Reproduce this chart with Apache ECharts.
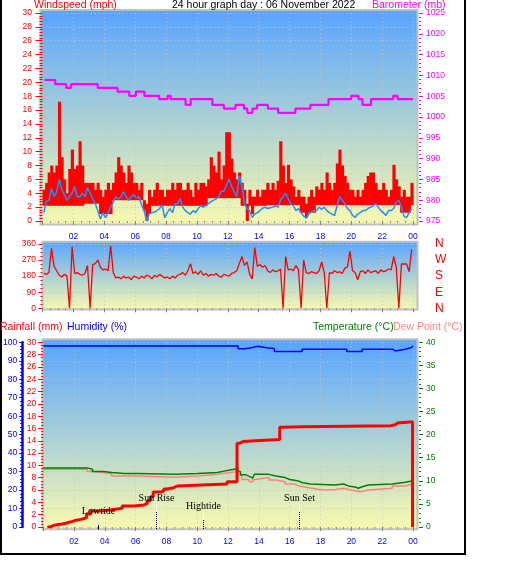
<!DOCTYPE html>
<html><head><meta charset="utf-8">
<script src="https://cdn.jsdelivr.net/npm/echarts/dist/echarts.min.js"></script>
<style>html,body{margin:0;padding:0;background:#fff;}#c{width:529px;height:563px;}</style>
</head><body><div id="c"></div>
<script>
// ---------- DATA ----------
const SLOT = 1 / 6; // 10-minute slots, hour = index * SLOT
const hourLabels = ['', '02', '04', '06', '08', '10', '12', '14', '16', '18', '20', '22', '00'];
const dirLetters = ['N', 'E', 'S', 'W', 'N'];

const windGustHigh = [4.5,5.5,7,8,7,8,17.2,9.2,6,4, 7.5,10.3,7.5,8,11.5,8,5.5,5.5,5.5,5.5,
  4.5,5.5,4.5,3.5,4.5,5.5,4.5,5.5,7,9.2, 8,7,5.5,8,7,5.5,5.5,4.5,5.5,3,
  2.5,4.5,3.5,4.5,5.5,4.5,4.5,3.5,4.5,4.5, 5.5,4.5,5.5,5.5,4.5,4.5,5.5,4.5,3.5,5.5,
  4.5,5.5,5.5,5,6,9.2,8,7,10,6, 8,12.8,12.8,9,7,6,7,5.5,4.5,2.5,
  4.5,3.5,3.5,4.5,3.5,4.5,4.5,5.5,4.5,5.5, 4.5,5.8,11.5,8,5.5,8.1,6,5,3.5,4.5,
  3.5,3.5,2.5,3.5,4.5,3.5,5,4.5,5.5,4.5, 7,5.5,4.5,5.5,8.3,10.3,8,6.5,5.5,4.5,
  4.5,3.5,4.5,3.5,4.5,5.5,6.5,7,7,5.5, 4.5,4.5,5.5,4.5,3.5,4.5,8.1,6,5,3.5,
  4.5,3.5,3.5,5.5];
const windGustLow = [2.2,2.2,2.2,2.2,2.2,2.2,2.2,2.2,2.2,2.2, 2.2,2.2,2.2,2.2,2.2,2.2,2.5,2.5,2.5,2.5,
  2.5,2.5,1,1,1,1,1,3,3,3, 3,3,3,3,3,3,3,3,3,1.5,
  0,1,2.2,2.2,2.2,2.2,2.2,2.2,2.2,2.2, 2.2,2.2,2.2,2.2,2.2,2.2,2.2,2.2,2.2,2.2,
  2.2,2.2,2.2,2.2,3.3,3.3,3.3,3.3,3.3,3.3, 3.3,3.3,3.3,3.3,3.3,3.3,3.3,2.2,2.2,0,
  2.2,1,2.2,2.2,2.2,2.2,2.2,2.3,2.3,2.3, 2.3,2.3,2.3,2.3,2.3,2.3,2.3,2.3,2.3,2.3,
  1.2,1.2,0.5,1.2,1.2,1.2,2.3,2.3,2.3,2.3, 2.3,2.3,2.3,2.3,2.3,2.3,2.3,2.3,2.3,2.3,
  2.3,2.3,2.3,2.3,2.3,2.3,2.3,2.3,2.3,2.3, 2.3,2.3,2.3,2.3,2.3,2.3,2.3,2.3,2.3,1.2,
  1.2,1.2,1.2,2.3];
const windAvg = [1.2,2.8,3,4.7,3.5,4.2,6,4.5,3.8,3, 3.5,4,5,3.5,3.5,4,3.5,4.8,4,3.2,
  2.5,1.5,0.3,1.2,0.5,1.2,2,2.7,3.5,3.2, 3.5,4.2,3.5,3,3.5,3.8,3.3,3.5,2.3,1.5,
  0,1.1,1.2,1.3,1.5,1.8,2.3,0.5,1.2,1.8, 1.2,2.5,2.5,3.2,2,1.5,1.2,1,1.5,1.2,
  1.8,2.2,2,2.2,2.5,2.8,3,3.2,3.5,4.3, 4.3,5.2,6,5,4.2,3.5,6.5,5,2.5,1.8,
  1.5,0.5,1,1.2,1.5,1.8,2,1.8,1.9,2, 2.2,2,3,3.5,4,3.2,2.5,2.2,1.5,1.8,
  1.2,0.7,0.4,1,1.3,1.5,1.5,2,1.7,2, 1.5,1.2,1,0.8,2.2,3.5,3,2.5,1.8,1.5,
  0.8,0.5,1,1.2,1.5,1.5,1.8,2,2.2,2.5, 2,1.5,1.2,0.8,1.5,1.5,1.8,2.7,3,2,
  0.7,0.5,1.2,1.8];
const windDir = [195,190,200,336,235,210,185,175,190,180, 0,345,195,200,190,185,195,240,0,245,
  250,270,230,215,220,210,350,200,170,175, 165,180,170,175,160,180,175,165,180,170,
  185,180,165,185,175,190,180,170,175,165, 180,170,185,190,200,185,210,250,195,205,
  190,210,185,195,180,190,185,195,180,175, 190,185,180,195,200,210,250,290,240,260,
  190,165,340,235,245,230,240,210,200,215, 205,210,220,0,290,215,220,210,240,215,
  0,270,200,195,205,200,195,210,260,200, 0,200,195,210,200,205,195,225,230,320,
  210,200,160,205,210,195,215,200,205,210, 195,215,205,210,220,215,290,230,0,248,
  248,248,205,330];

// [hour, value] change points (step lines)
const baroSteps = [[0.13,1008.9],[0.82,1007.9],[1.53,1007.0],[1.85,1007.9],[3.58,1007.0],[4.86,1006.1],
  [5.62,1005.1],[6.05,1006.1],[6.6,1005.1],[7.56,1004.3],[8.1,1005.1],[8.3,1004.3],[9.27,1002.9],
  [9.6,1004.3],[11.0,1002.9],[11.75,1002.0],[12.5,1002.9],[13.05,1002.0],[13.27,1001.0],[13.6,1002.0],
  [13.9,1002.9],[14.6,1002.0],[15.26,1001.0],[16.38,1002.0],[17.35,1002.9],[18.53,1004.3],[20.0,1005.1],
  [20.47,1004.3],[20.73,1002.9],[21.28,1004.3],[22.72,1005.1],[23.0,1004.3],[24.0,1004.3]];
const humiditySteps = [[0,98],[12.65,96.5],[13.1,97],[13.5,97.8],[13.9,97],[14.5,96.7],[15.0,95],
  [16.8,96.2],[19.7,95],[20.7,96.2],[22.7,95.3],[22.85,96.2],[23.5,97.2],[23.9,98],[24,98]];
const rainSteps = [[0.27,0],[0.44,0.27],[0.7,0.49],[1.24,0.6],[1.46,0.76],[1.67,0.92],[1.89,1.08],
  [2.1,1.24],[2.43,1.35],[2.64,1.57],[2.82,2.11],[3.08,2.6],[3.72,2.76],[4.37,3.03],[5.13,3.41],
  [5.88,3.57],[6.53,3.84],[6.75,4.27],[6.96,4.9],[7.14,5.68],[7.61,5.84],[7.83,6.17],[8.04,6.39],
  [8.47,6.66],[8.69,6.98],[11.93,7.36],[12.58,13.6],[12.75,13.9],[13.0,14.0],[13.75,14.2],
  [15.35,16.2],[15.5,16.3],[16.85,16.45],[22.55,16.6],[22.85,16.9],[23.0,17.1],[23.97,0],[24,0]];
const tempSteps = [[0,12.8],[2.85,12.5],[3.2,12.0],[3.9,11.8],[4.44,11.6],[5.3,11.3],[5.4,11.6],
  [6.15,11.4],[8.6,11.6],[10.0,11.8],[11.3,12.1],[11.75,12.4],[12.2,12.6],[12.65,12.0],[12.8,11.3],
  [13.15,10.9],[13.4,10.6],[13.6,11.0],[13.7,11.4],[14.65,11.05],[15.1,10.7],[15.7,10.3],[16.0,10.0],
  [16.5,9.6],[16.85,9.3],[17.35,9.1],[18.9,9.3],[19.5,8.9],[19.8,8.6],[20.3,8.4],[20.45,8.7],
  [20.7,9.1],[21.1,9.3],[22.65,9.7],[23.5,10.0],[24,10.0]];
const dewSteps = [[0,12.5],[2.85,12.0],[3.2,11.6],[4.44,11.05],[6.15,10.8],[8.6,11.05],[10.0,11.4],
  [11.3,11.8],[12.2,12.1],[12.65,11.3],[12.9,10.3],[13.3,10.0],[13.4,9.8],[13.6,10.3],[13.8,10.7],
  [14.65,10.2],[15.1,9.8],[15.7,9.3],[16.3,8.9],[16.6,8.5],[17.25,8.2],[17.8,8.0],[18.45,8.1],
  [19.0,8.4],[19.5,8.0],[19.95,7.65],[20.6,8.0],[21.1,8.4],[22.65,8.9],[23.5,9.3],[24,9.3]];

const eventNames = ['Lowtide', 'Sun Rise', 'Hightide', 'Sun Set'];
const eventHours = [3.55, 7.31, 10.35, 16.57];

// ---------- STYLE / LAYOUT ----------
const FONT = 'Liberation Sans';
const TICKFS = 8.5;
const TITLEFS = 10.5;
const GL = 42.5, GR = 116;
const eventStyle = [
  {label: -16, wTop: -10, wBot: -2, dotted: false},
  {label: -29, wTop: -23, wBot: -15, dotted: true},
  {label: -21, wTop: -15, wBot: -7, dotted: true},
  {label: -29, wTop: -23, wBot: -15, dotted: true}
];
function grad() {
  return new echarts.graphic.LinearGradient(0, 0, 0, 1, [
    {offset: 0, color: '#56a4ff'}, {offset: 1, color: '#fafaae'}]);
}
function hourAxis(g, show, offset, margin) {
  return {type: 'value', gridIndex: g, min: 0, max: 24, interval: 2, offset: offset,
    axisLine: {show: false},
    axisTick: {show: true, length: 4, lineStyle: {color: '#808080'}},
    minorTick: {show: true, splitNumber: 4, length: 2, lineStyle: {color: '#909090'}},
    splitLine: {show: true, lineStyle: {color: '#c4c4c4', type: [1, 3]}},
    axisLabel: {show: show, margin: margin, fontFamily: FONT, fontSize: TICKFS, color: '#0000ff',
      formatter: v => hourLabels[Math.round(v / 2)] || ''}};
}
function valAxis(o) {
  const c = o.color;
  return {type: 'value', gridIndex: o.g, position: o.pos, offset: o.offset || 0,
    min: o.min, max: o.max, interval: o.interval,
    axisLine: o.line ? {show: true, lineStyle: {color: c, width: o.line}} : {show: false},
    axisTick: {show: o.tick !== 0, length: o.tick || 4, lineStyle: {color: c}},
    minorTick: {show: !!o.minor, splitNumber: o.minor || 5, length: o.minorLen || 2, lineStyle: {color: c}},
    splitLine: o.split ? {show: true, lineStyle: {color: '#c4c4c4', type: [1, 3]}} : {show: false},
    axisLabel: {margin: o.margin, fontFamily: FONT, fontSize: o.fs || TICKFS, color: c,
      formatter: o.fmt || (v => String(v))}};
}
const stepLine = (name, data, xi, yi, color, w, z) => ({
  name, type: 'line', xAxisIndex: xi, yAxisIndex: yi, data, step: 'end', symbol: 'none',
  lineStyle: {color, width: w}, z: z || 3, animation: false, clip: true});

const texts = [
  ['Windspeed (mph)', 34, 5, '#ff0000'],
  ['24 hour graph day : 06 November 2022', 172, 5, '#000000'],
  ['Barometer (mb)', 372, 5, '#ff00ff'],
  ['Rainfall (mm)', 0, 327, '#ff0000'],
  ['Humidity (%)', 67, 327, '#0000ff'],
  ['Temperature (°C)', 313, 327, '#008000'],
  ['Dew Point (°C)', 393, 327, '#ff8080']
];

const graphics = [
  {type: 'rect', z: -10, shape: {x: 40.5, y: 10, width: 377, height: 214.5}, style: {fill: grad(), stroke: '#c0c0c0', lineWidth: 2}},
  {type: 'rect', z: -10, shape: {x: 42.5, y: 241.7, width: 375, height: 67.8}, style: {fill: grad(), stroke: '#c0c0c0', lineWidth: 2}},
  {type: 'rect', z: -10, shape: {x: 42.5, y: 339.3, width: 375, height: 190}, style: {fill: grad(), stroke: '#c0c0c0', lineWidth: 2}},
  {type: 'rect', z: 50, shape: {x: 1, y: -5, width: 464, height: 559}, style: {fill: null, stroke: '#000', lineWidth: 2}}
].concat(texts.map(t => ({type: 'text', z: 50, x: t[1], y: t[2],
  style: {text: t[0], fill: t[3], font: TITLEFS + 'px ' + FONT, verticalAlign: 'middle'}})));

const option = {
  animation: false,
  backgroundColor: '#ffffff',
  graphic: graphics,
  grid: [
    {left: GL, right: GR, top: 13, height: 208},
    {left: GL, right: GR, top: 244, height: 64.3},
    {left: GL, right: GR, top: 342.3, height: 184.7}
  ],
  xAxis: [hourAxis(0, true, 3, 8), hourAxis(1, false, 1, 8), hourAxis(2, true, 2.5, 7.5)],
  yAxis: [
    valAxis({g: 0, pos: 'left', offset: 2.5, min: 0, max: 30, interval: 2, color: '#ff0000', tick: 7, minor: 5, minorLen: 3, margin: 8, split: true}),
    valAxis({g: 0, pos: 'right', offset: 6, min: 975, max: 1025, interval: 5, color: '#ff00ff', tick: 4, minor: 5, minorLen: 2, margin: 7}),
    valAxis({g: 1, pos: 'left', offset: 1.5, min: 0, max: 360, interval: 90, color: '#ff0000', tick: 4, minor: 4, minorLen: 2, margin: 5, split: true}),
    valAxis({g: 1, pos: 'right', offset: 6, min: 0, max: 360, interval: 90, color: '#ff0000', tick: 0, margin: 16, fs: 12,
      fmt: v => dirLetters[Math.round(v / 90)]}),
    valAxis({g: 2, pos: 'left', offset: 1, min: 0, max: 30, interval: 2, color: '#ff0000', tick: 5, minor: 4, minorLen: 2, margin: 6}),
    valAxis({g: 2, pos: 'left', offset: 21, min: 0, max: 100, interval: 10, color: '#0000ff', tick: 3, minor: 5, minorLen: 2, margin: 5, line: 2.5, split: true}),
    valAxis({g: 2, pos: 'right', offset: 6, min: 0, max: 40, interval: 5, color: '#008000', tick: 4, minor: 5, minorLen: 2, margin: 7})
  ],
  series: [
    {name: 'Gust', type: 'custom', xAxisIndex: 0, yAxisIndex: 0, clip: true, z: 2,
      data: windGustHigh.map((hi, i) => [i * SLOT, windGustLow[i], hi]),
      encode: {x: 0, y: [1, 2]},
      renderItem: function (params, api) {
        const h = api.value(0), lo = api.value(1), hi = api.value(2);
        const p1 = api.coord([h, hi]), p2 = api.coord([h + SLOT, lo]);
        return {type: 'rect', shape: {x: p1[0], y: p1[1], width: p2[0] - p1[0] + 0.6, height: p2[1] - p1[1]},
          style: {fill: '#ff0000'}};
      }},
    {name: 'Wind', type: 'line', xAxisIndex: 0, yAxisIndex: 0, symbol: 'none', z: 3,
      data: windAvg.map((v, i) => [(i + 0.5) * SLOT, v]),
      lineStyle: {color: '#1e90ff', width: 1.5}},
    stepLine('Barometer', baroSteps, 0, 1, '#ff00ff', 2.2, 4),
    {name: 'Direction', type: 'line', xAxisIndex: 1, yAxisIndex: 2, symbol: 'none', z: 3,
      data: windDir.map((v, i) => [(i + 0.5) * SLOT, v]),
      lineStyle: {color: '#ff0000', width: 1.3}},
    stepLine('Humidity', humiditySteps, 2, 5, '#0000ff', 1.5, 3),
    stepLine('Dew Point', dewSteps, 2, 6, '#ff8080', 1.5, 3),
    stepLine('Temperature', tempSteps, 2, 6, '#008000', 1.5, 4),
    stepLine('Rainfall', rainSteps, 2, 4, '#ff0000', 3, 5),
    {name: 'Events', type: 'custom', xAxisIndex: 2, yAxisIndex: 4, z: 6, clip: false,
      data: eventHours.map((h, i) => [h, 0, i]),
      encode: {x: 0, y: 1},
      renderItem: function (params, api) {
        const idx = api.value(2);
        const st = eventStyle[idx];
        const p = api.coord([api.value(0), api.value(1)]);
        const x = Math.round(p[0]) + 0.5, y = p[1];
        return {type: 'group', children: [
          {type: 'line', shape: {x1: x, y1: y + st.wTop, x2: x, y2: y + st.wBot}, style: {stroke: '#ffffff', lineWidth: 1}},
          {type: 'line', shape: {x1: x, y1: y + st.wBot, x2: x, y2: y + 2.5},
            style: {stroke: '#000000', lineWidth: 1, lineDash: st.dotted ? [1, 1] : null}},
          {type: 'text', x: x, y: y + st.label, style: {text: eventNames[idx], fill: '#000000',
            font: '10px Liberation Serif', align: 'center', verticalAlign: 'middle'}}
        ]};
      }}
  ]
};
const chart = echarts.init(document.getElementById('c'), null, {renderer: 'canvas'});
chart.setOption(option);
</script>
</body></html>
